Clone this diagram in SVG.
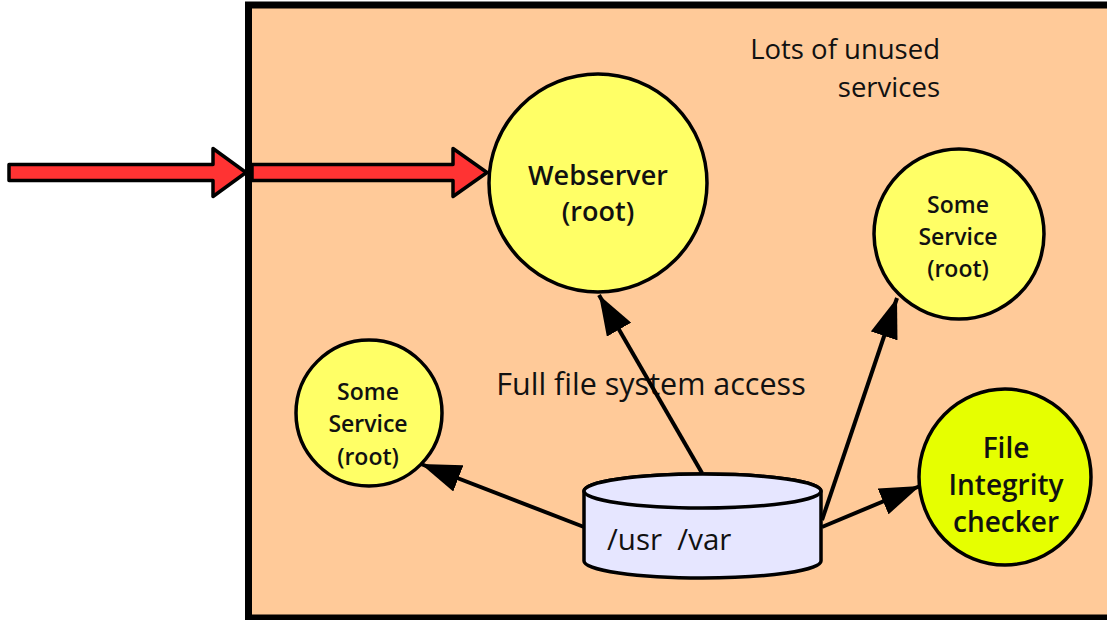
<svg xmlns="http://www.w3.org/2000/svg" width="1107" height="620" viewBox="0 0 1107 620">
<style>
.lbl{font-family:"Open Sans","Noto Sans","DejaVu Sans",sans-serif;font-weight:600;fill:#111;text-anchor:middle}
.note{font-family:"Open Sans","Noto Sans","DejaVu Sans",sans-serif;font-weight:400;fill:#111}
.node{stroke:#000;stroke-width:3.5}
.conn{stroke:#000;stroke-width:4;fill:none}
.red{fill:#ff3333;stroke:#000;stroke-width:3.5;stroke-linejoin:round}
</style>
<defs>
<marker id="ah" viewBox="0 0 40 28" refX="40" refY="14" markerWidth="40" markerHeight="28" markerUnits="userSpaceOnUse" orient="auto">
<path d="M0,0 L40,14 L0,28 z" fill="#000"/>
</marker>
</defs>
<rect width="1107" height="620" fill="#fff"/>
<g id="system">
<rect x="248.5" y="5" width="900" height="613" fill="#ffca99" stroke="#000" stroke-width="7"/>
</g>
<g id="notes">
<text class="note" x="940" y="59" font-size="27.5" text-anchor="end">Lots of unused</text>
<text class="note" x="940" y="97" font-size="27.5" text-anchor="end">services</text>
<text class="note" x="651" y="395" font-size="30.5" text-anchor="middle">Full file system access</text>
</g>
<g id="connectors">
<line class="conn" x1="702" y1="473" x2="599" y2="295" marker-end="url(#ah)"/>
<line class="conn" x1="822" y1="520" x2="897" y2="298" marker-end="url(#ah)"/>
<line class="conn" x1="584" y1="527" x2="421" y2="464" marker-end="url(#ah)"/>
<line class="conn" x1="822" y1="527" x2="920" y2="486" marker-end="url(#ah)"/>
</g>
<g id="webserver">
<circle class="node" cx="598" cy="183" r="109" fill="#ffff66"/>
<text class="lbl" x="598" y="185" font-size="27">Webserver</text>
<text class="lbl" x="598" y="221" font-size="27">(root)</text>
</g>
<g id="service-right">
<circle class="node" cx="959" cy="234" r="85" fill="#ffff66"/>
<text class="lbl" x="958" y="213" font-size="23">Some</text>
<text class="lbl" x="958" y="245" font-size="23">Service</text>
<text class="lbl" x="958" y="277" font-size="23">(root)</text>
</g>
<g id="service-left">
<circle class="node" cx="369" cy="413" r="73" fill="#ffff66"/>
<text class="lbl" x="368" y="400" font-size="23">Some</text>
<text class="lbl" x="368" y="432" font-size="23">Service</text>
<text class="lbl" x="368" y="465" font-size="23">(root)</text>
</g>
<g id="integrity">
<ellipse class="node" cx="1005" cy="477" rx="86" ry="88" fill="#e6ff00"/>
<text class="lbl" x="1006" y="458" font-size="28">File</text>
<text class="lbl" x="1006" y="495" font-size="28">Integrity</text>
<text class="lbl" x="1006" y="532" font-size="28">checker</text>
</g>
<g id="filesystem">
<path class="node" d="M584,491 L584,561 A118.5,17 0 0 0 821,561 L821,491 A118.5,17 0 0 0 584,491 z" fill="#e6e6ff"/>
<ellipse class="node" cx="702.5" cy="491" rx="118.5" ry="17" fill="#e6e6ff"/>
<text class="note" x="607" y="550" font-size="29.5" xml:space="preserve" style="white-space:pre">/usr  /var</text>
</g>
<g id="attack">
<polygon class="red" points="9,164.5 213,164.5 213,148.5 246,172.5 213,196.5 213,180.5 9,180.5"/>
<polygon class="red" points="252,164.5 453,164.5 453,148.5 487,172.5 453,196.5 453,180.5 252,180.5"/>
</g>
</svg>
